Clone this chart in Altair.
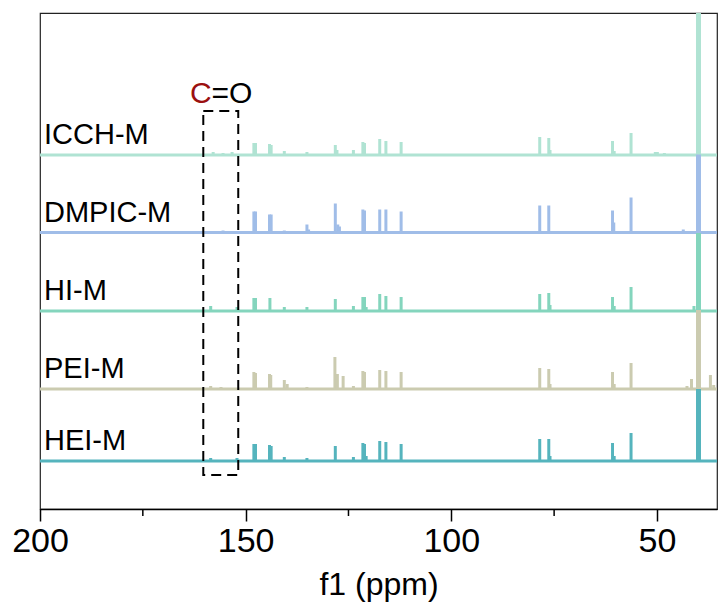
import altair as alt
import pandas as pd

# ---- data ----
SERIES = ["ICCH-M", "DMPIC-M", "HI-M", "PEI-M", "HEI-M"]
COLORS = ["#b0e3d3", "#a0bde8", "#84d5bd", "#cbcbb0", "#55b4bd"]
BASELINES = [354, 276.5, 198, 120, 48]

ICCH_PPM = [157.9, 155.5, 153.3, 148.0, 147.6, 144.2, 143.8, 140.6, 135.1, 128.2, 127.8, 123.8,
            121.5, 121.1, 117.4, 115.9, 112.2, 78.5, 76.3, 76.0, 60.8, 60.4, 56.3, 50.4, 49.9,
            48.2, 43.6, 39.9]
ICCH_H = [3, 2, 3, 12, 12, 11, 10, 4, 3, 10, 5, 5,
          13, 12, 16, 14, 13, 18, 17, 5, 14, 4, 22, 3, 3,
          2, 1, 400]

DMPIC_PPM = [155.5, 148.0, 147.6, 144.2, 143.8, 140.6, 135.1, 134.7, 128.2, 127.6, 127.2,
             121.5, 121.1, 117.4, 115.9, 112.2, 78.5, 76.3, 60.8, 60.5, 56.3, 43.6, 39.9]
DMPIC_H = [2, 21, 21, 18, 18, 2, 8, 3, 29, 8, 6,
           23, 22, 23, 23, 21, 27, 27, 22, 10, 35, 3, 78]

HI_PPM = [158.5, 152.1, 148.0, 147.6, 144.1, 140.6, 135.1, 128.2, 123.8, 121.5, 121.1, 120.7,
          117.4, 115.9, 112.2, 78.5, 76.3, 76.0, 60.8, 60.4, 56.3, 41.0, 39.9]
HI_H = [5, 4, 13, 13, 13, 4, 4, 12, 5, 14, 14, 4,
        17, 15, 14, 17, 18, 6, 14, 5, 24, 5, 78]

PEI_PPM = [158.5, 156.0, 148.0, 147.6, 144.2, 143.9, 140.6, 139.9, 135.1, 128.3, 127.7, 126.3,
           123.8, 121.5, 121.1, 117.4, 115.9, 112.2, 78.5, 76.3, 76.0, 60.8, 60.4, 56.3,
           42.7, 41.6, 39.9, 37.0, 36.2]
PEI_H = [3, 2, 17, 16, 15, 14, 9, 5, 2, 32, 15, 13,
         3, 18, 17, 19, 18, 17, 21, 20, 5, 17, 5, 26,
         3, 10, 79, 14, 4]

HEI_PPM = [158.5, 152.1, 148.0, 147.6, 144.2, 143.8, 140.6, 135.1, 128.2, 123.8, 121.5, 121.1,
           120.7, 117.4, 115.9, 112.2, 78.5, 76.3, 76.0, 60.8, 60.4, 56.3, 39.9]
HEI_H = [3, 3, 17, 17, 16, 15, 4, 3, 15, 4, 18, 17,
         5, 20, 19, 17, 22, 22, 5, 18, 5, 28, 72]

PEAK_PPM = [ICCH_PPM, DMPIC_PPM, HI_PPM, PEI_PPM, HEI_PPM]
PEAK_H = [ICCH_H, DMPIC_H, HI_H, PEI_H, HEI_H]

MAJOR_TICKS = [200, 150, 100, 50]
MINOR_TICKS = [175, 125, 75]
X_DOMAIN = [35.4, 200]
Y_DOMAIN = [0, 496]
BOX_PPM = [160.3, 151.8]
BOX_Y = [34, 398]

# ---- tables ----
rows = []
for s, base, pp, hh in zip(SERIES, BASELINES, PEAK_PPM, PEAK_H):
    for p, h in zip(pp, hh):
        rows.append({"series": s, "ppm": p, "base": base, "top": base + h, "big": h > 60})
peaks = pd.DataFrame(rows)
bases = pd.DataFrame({"series": SERIES, "base": BASELINES, "label_y": [b + 11 for b in BASELINES]})

W, H = 677, 496
FONT = "Liberation Sans"

xscale = alt.Scale(domain=X_DOMAIN, reverse=True, nice=False, zero=False)
yscale = alt.Scale(domain=Y_DOMAIN, nice=False, zero=False)
cscale = alt.Scale(domain=SERIES, range=COLORS)

xaxis = alt.Axis(values=MAJOR_TICKS, tickSize=12, tickWidth=1.5, tickColor="black",
                 domainColor="black", domainWidth=1.5, labelFontSize=34, labelFont=FONT,
                 labelColor="black", labelPadding=3, labelFlush=False, grid=False,
                 title="f1 (ppm)", titleFontSize=32, titleFont=FONT, titleFontWeight="normal",
                 titleColor="black", titlePadding=11)

base_lines = alt.Chart(bases).mark_rule(strokeWidth=3).encode(
    y=alt.Y("base:Q", scale=yscale, axis=None),
    color=alt.Color("series:N", scale=cscale, legend=None),
)

small = alt.Chart(peaks).transform_filter("!datum.big").mark_rule(strokeWidth=3, clip=True).encode(
    x=alt.X("ppm:Q", scale=xscale, axis=xaxis),
    y=alt.Y("base:Q", scale=yscale, axis=None),
    y2="top:Q",
    color=alt.Color("series:N", scale=cscale, legend=None),
)

big = alt.Chart(peaks).transform_filter("datum.big").mark_rule(strokeWidth=5, clip=True).encode(
    x=alt.X("ppm:Q", scale=xscale),
    y=alt.Y("base:Q", scale=yscale),
    y2="top:Q",
    color=alt.Color("series:N", scale=cscale, legend=None),
)

labels = alt.Chart(bases).mark_text(align="left", baseline="alphabetic", font=FONT,
                                    fontSize=29, color="black").encode(
    x=alt.value(4),
    y=alt.Y("label_y:Q", scale=yscale),
    text="series:N",
)

minor = alt.Chart(pd.DataFrame({"ppm": MINOR_TICKS})).mark_rule(
    strokeWidth=1.5, color="black", clip=False).encode(
    x=alt.X("ppm:Q", scale=xscale),
    y=alt.value(H),
    y2=alt.value(H + 7),
)

box = alt.Chart(pd.DataFrame({"x1": [BOX_PPM[0]], "x2": [BOX_PPM[1]],
                              "y1": [BOX_Y[0]], "y2": [BOX_Y[1]]})).mark_rect(
    fill=None, fillOpacity=0, stroke="black", strokeWidth=2, strokeDash=[10, 6]).encode(
    x=alt.X("x1:Q", scale=xscale), x2="x2:Q",
    y=alt.Y("y1:Q", scale=yscale), y2="y2:Q",
)

c_text = alt.Chart(pd.DataFrame({"t": ["C"]})).mark_text(
    align="left", baseline="alphabetic", font=FONT, fontSize=30, color="#9b1010").encode(
    x=alt.value(150), y=alt.value(90), text="t:N")
o_text = alt.Chart(pd.DataFrame({"t": ["=O"]})).mark_text(
    align="left", baseline="alphabetic", font=FONT, fontSize=30, color="black").encode(
    x=alt.value(171.5), y=alt.value(90), text="t:N")

chart = alt.layer(base_lines, small, big, box, labels, minor, c_text, o_text).properties(
    width=W, height=H,
    autosize=alt.AutoSizeParams(type="none"),
    padding={"left": 40, "top": 13, "right": 1, "bottom": 103},
    background="white",
).configure_view(stroke="#222222", strokeWidth=1.2)

chart.save("out.html", embed_options={"renderer": "svg", "actions": False})
